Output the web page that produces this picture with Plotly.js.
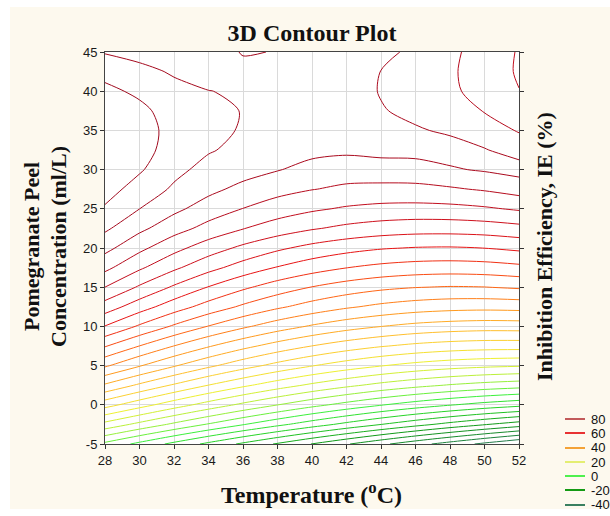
<!DOCTYPE html>
<html>
<head>
<meta charset="utf-8">
<script src="https://cdn.plot.ly/plotly-3.0.1.min.js"></script>
<style>html,body{margin:0;padding:0;background:#fff;}#chart{width:610px;height:516px;}</style>
</head>
<body>
<div id="chart"></div>
<script>
// Temperature (°C) grid columns
const temperature = [28, 30, 32, 34, 36, 38, 40, 42, 44, 46, 48, 50, 52];
// Pomegranate peel concentration (ml/L) grid rows
const concentration = [-5, -2.5, 0, 2.5, 5, 7.5, 10, 12.5, 15, 17.5, 20, 22.5, 25, 27.5, 30, 32.5, 35, 37.5, 40, 42.5, 45];
// Inhibition efficiency IE (%) estimated from the contour lines, one row per concentration
const ieRowM5   = [3.0, -1.08, -5.08, -8.96, -12.76, -16.48, -20.12, -23.64, -27.12, -30.48, -33.72, -36.92, -40.04];
const ieRowM2_5 = [14.68, 10.88, 7.2, 3.64, 0.24, -3.0, -6.12, -9.12, -11.96, -14.68, -17.28, -19.72, -22.0];
const ieRow0    = [25.6, 21.64, 17.88, 14.4, 11.12, 8.08, 5.24, 2.68, 0.28, -1.84, -3.72, -5.4, -6.84];
const ieRow2_5  = [35.44, 31.32, 27.52, 23.96, 20.8, 17.88, 15.24, 12.92, 10.88, 9.16, 7.72, 6.6, 5.76];
const ieRow5    = [44.6, 40.32, 36.4, 32.84, 29.6, 26.72, 24.2, 22.04, 20.2, 18.72, 17.6, 16.84, 16.4];
const ieRow7_5  = [52.32, 47.96, 43.96, 40.36, 37.16, 34.36, 31.96, 29.92, 28.28, 27.04, 26.2, 25.76, 25.68];
const ieRow10   = [59.84, 55.44, 51.44, 47.84, 44.68, 41.88, 39.52, 37.56, 36.04, 34.84, 34.12, 33.76, 33.84];
const ieRow12_5 = [66.12, 61.8, 57.88, 54.4, 51.32, 48.64, 46.4, 44.52, 43.08, 42.04, 41.44, 41.24, 41.44];
const ieRow15   = [71.98, 67.48, 63.44, 59.84, 56.72, 54.08, 51.88, 50.16, 48.88, 48.12, 47.76, 47.92, 48.52];
const ieRow17_5 = [77.04, 72.64, 68.76, 65.28, 62.32, 59.76, 57.72, 56.08, 54.96, 54.28, 54.04, 54.28, 55.0];
const ieRow20   = [81.2, 77.0, 73.24, 69.96, 67.12, 64.72, 62.8, 61.36, 60.32, 59.8, 59.68, 60.04, 60.88];
const ieRow22_5 = [84.68, 80.92, 77.6, 74.68, 72.16, 70.08, 68.36, 67.08, 66.2, 65.72, 65.68, 66.0, 66.76];
const ieRow25   = [87.54, 84.02, 80.92, 78.2, 75.92, 74.04, 72.6, 71.52, 70.88, 70.68, 70.88, 71.48, 72.48];
const ieRow27_5 = [89.64, 86.32, 83.44, 81.0, 78.92, 77.32, 76.12, 75.32, 74.96, 75.04, 75.52, 76.4, 77.72];
const ieRow30   = [90.92, 88.48, 85.0, 82.8, 81.6, 80.2, 78.8, 77.8, 78.2, 78.24, 79.6, 80.4, 81.4];
const ieRow32_5 = [91.52, 89.6, 86.2, 84.32, 83.0, 81.8, 81.0, 80.8, 81.2, 81.4, 81.6, 80.2, 78.6];
const ieRow35   = [91.4, 89.8, 86.6, 84.8, 83.76, 82.6, 82.0, 81.8, 81.2, 80.4, 79.4, 78.2, 75.64];
const ieRow37_5 = [90.56, 89.0, 86.2, 84.6, 83.92, 83.0, 82.4, 82.0, 80.28, 79.0, 77.8, 75.8, 73.76];
const ieRow40   = [89.0, 87.2, 85.0, 84.04, 83.76, 83.2, 82.6, 82.0, 79.76, 78.6, 76.8, 74.4, 72.08];
const ieRow42_5 = [86.72, 85.0, 83.6, 83.2, 83.68, 83.52, 82.8, 81.8, 79.96, 78.8, 76.6, 74.0, 71.6];
const ieRow45   = [83.72, 82.8, 82.2, 83.4, 84.08, 83.96, 83.0, 81.4, 80.48, 79.6, 76.8, 74.4, 71.68];
const ieGrid = [ieRowM5, ieRowM2_5, ieRow0, ieRow2_5, ieRow5, ieRow7_5, ieRow10, ieRow12_5, ieRow15,
  ieRow17_5, ieRow20, ieRow22_5, ieRow25, ieRow27_5, ieRow30, ieRow32_5, ieRow35, ieRow37_5, ieRow40,
  ieRow42_5, ieRow45];

// Tick labels
const xTicks = [28, 30, 32, 34, 36, 38, 40, 42, 44, 46, 48, 50, 52];
const yTicks = [-5, 0, 5, 10, 15, 20, 25, 30, 35, 40, 45];

// Legend
const legendLabels = ['80', '60', '40', '20', '0', '-20', '-40'];
const legendColors = ['#c25a5a', '#e83232', '#f4a236', '#e4ee72', '#4ef04e', '#149a14', '#3a8060'];

const colorscale = [
  [0.0, '#2a7558'], [0.09375, '#178a2c'], [0.15625, '#119a18'], [0.25, '#28d428'],
  [0.3125, '#3cf03c'], [0.390625, '#aef03c'], [0.46875, '#eef032'], [0.546875, '#ffc832'],
  [0.625, '#ff9a1e'], [0.703125, '#ff5a14'], [0.78125, '#e81414'], [0.859375, '#c80f1e'],
  [0.9375, '#aa0a1e'], [1.0, '#a00a1e']
];

const trace = {
  type: 'contour',
  x: temperature,
  y: concentration,
  z: ieGrid,
  zauto: false, zmin: -40, zmax: 88,
  colorscale: colorscale,
  showscale: false,
  contours: {coloring: 'lines', start: -80, end: 88, size: 4, showlabels: false},
  line: {width: 1, smoothing: 0.85},
  hoverinfo: 'skip'
};

// plot area in pixels: x 105..519, y 52..444
const L = 105, R = 519, T = 52, B = 444;
const fx = px => (px - L) / (R - L);
const fy = py => (B - py) / (B - T);
const serif = 'Liberation Serif, Times New Roman, serif';

const shapes = [
  {type: 'rect', xref: 'paper', yref: 'paper', x0: fx(10), x1: fx(612), y0: fy(509), y1: fy(7),
   fillcolor: '#fdf9ee', line: {width: 0}, layer: 'below'},
  {type: 'rect', xref: 'paper', yref: 'paper', x0: 0, x1: 1, y0: 0, y1: 1,
   fillcolor: '#ffffff', line: {width: 0}, layer: 'below'}
];
const annotations = [
  {text: '<b>Temperature (<sup>o</sup>C)</b>', xref: 'paper', yref: 'paper', x: fx(311), y: fy(493),
   showarrow: false, font: {family: serif, size: 24, color: '#111'}, xanchor: 'center', yanchor: 'middle'},
  {text: '<b>Pomegranate Peel</b>', xref: 'paper', yref: 'paper', x: fx(31), y: fy(247), textangle: -90,
   showarrow: false, font: {family: serif, size: 22, color: '#111'}, xanchor: 'center', yanchor: 'middle'},
  {text: '<b>Concentration (ml/L)</b>', xref: 'paper', yref: 'paper', x: fx(58), y: fy(247), textangle: -90,
   showarrow: false, font: {family: serif, size: 22, color: '#111'}, xanchor: 'center', yanchor: 'middle'},
  {text: '<b>Inhibition Efficiency, IE (%)</b>', xref: 'paper', yref: 'paper', x: fx(544), y: fy(247), textangle: -90,
   showarrow: false, font: {family: serif, size: 22, color: '#111'}, xanchor: 'center', yanchor: 'middle'}
];
const legendY = [419, 433, 448, 462, 476, 490, 505];
legendLabels.forEach((lab, i) => {
  shapes.push({type: 'line', xref: 'paper', yref: 'paper', x0: fx(565), x1: fx(585),
    y0: fy(legendY[i]), y1: fy(legendY[i]), line: {color: legendColors[i], width: 2}});
  annotations.push({text: lab, xref: 'paper', yref: 'paper', x: fx(589), y: fy(legendY[i]),
    xanchor: 'left', yanchor: 'middle', showarrow: false,
    font: {family: 'Liberation Sans, Arial, sans-serif', size: 13, color: '#111'}});
});

const axisFont = {family: 'Liberation Sans, Arial, sans-serif', size: 13, color: '#1a1a1a'};
const layout = {
  width: 610, height: 516,
  margin: {l: L, r: 610 - R, t: T, b: 516 - B, pad: 0},
  paper_bgcolor: '#ffffff', plot_bgcolor: '#ffffff',
  showlegend: false,
  title: {text: '<b>3D Contour Plot</b>', x: fx(312), xref: 'paper', xanchor: 'center',
    y: 1 - 33 / 516, yref: 'container', yanchor: 'middle',
    font: {family: serif, size: 24, color: '#111'}},
  xaxis: {range: [28, 52], tickmode: 'array', tickvals: xTicks, ticktext: xTicks.map(String),
    ticks: 'outside', ticklen: 4, tickcolor: '#333', showgrid: true, gridcolor: '#dadada', gridwidth: 1,
    showline: true, linecolor: '#444', linewidth: 1, mirror: true, zeroline: false, tickfont: axisFont},
  yaxis: {range: [-5, 45], tickmode: 'array', tickvals: yTicks, ticktext: yTicks.map(String),
    ticks: 'outside', ticklen: 4, tickcolor: '#333', showgrid: true, gridcolor: '#dadada', gridwidth: 1,
    showline: true, linecolor: '#444', linewidth: 1, mirror: 'ticks', zeroline: false, tickfont: axisFont},
  shapes: shapes,
  annotations: annotations
};

Plotly.newPlot('chart', [trace], layout, {staticPlot: true, displayModeBar: false});
</script>
</body>
</html>
